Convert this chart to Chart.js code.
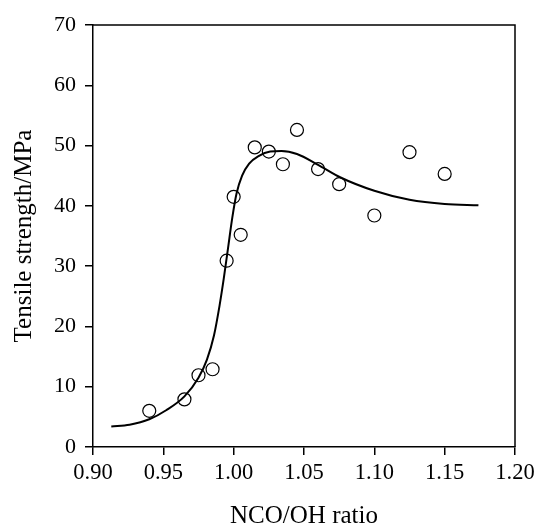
<!DOCTYPE html>
<html>
<head>
<meta charset="utf-8">
<script src="https://cdn.jsdelivr.net/npm/chart.js@4/dist/chart.umd.min.js"></script>
<style>
  html, body { margin: 0; padding: 0; background: #fff; }
  #wrap { width: 537px; height: 525px; }
</style>
</head>
<body>
<div id="wrap"><canvas id="chart" width="537" height="525"></canvas></div>
<script>
// measured points (NCO/OH ratio, tensile strength MPa)
const ratio = [0.940, 0.965, 0.975, 0.985, 0.995, 1.000, 1.005, 1.015, 1.025, 1.035, 1.045, 1.060, 1.075, 1.100, 1.125, 1.150]
const strength = [6.0, 7.9, 11.9, 12.9, 30.9, 41.5, 35.2, 49.7, 49.0, 46.9, 52.6, 46.1, 43.6, 38.4, 48.9, 45.3]

// fitted curve
const fitX = [0.913, 0.926, 0.940, 0.952, 0.965, 0.975, 0.981, 0.986, 0.990, 0.993, 0.996, 0.999, 1.002, 1.006, 1.011, 1.018, 1.026, 1.034, 1.045, 1.060, 1.076, 1.100, 1.125, 1.150, 1.174]
const fitY = [3.4, 3.7, 4.6, 6.1, 8.4, 11.5, 14.5, 18.5, 23.5, 28.0, 33.0, 38.0, 42.0, 45.0, 47.0, 48.3, 49.0, 49.1, 48.6, 46.8, 44.7, 42.5, 41.0, 40.3, 40.1]

const xTicks = [0.90, 0.95, 1.00, 1.05, 1.10, 1.15, 1.20]
const yTicks = [0, 10, 20, 30, 40, 50, 60, 70]

const serif = "'Liberation Serif', 'Times New Roman', serif"

// keep the plot box where the reference has it
function noScalePadding(s) {
  s.paddingLeft = 0
  s.paddingRight = 0
  s.paddingTop = 0
  s.paddingBottom = 0
}

const frame = {
  id: "frame",
  afterDatasetsDraw(chart) {
    const { ctx, chartArea: a } = chart
    ctx.save()
    ctx.strokeStyle = "#000"
    ctx.lineWidth = 1.5
    ctx.beginPath()
    ctx.moveTo(a.left, a.top)
    ctx.lineTo(a.right, a.top)
    ctx.lineTo(a.right, a.bottom)
    ctx.stroke()
    ctx.restore()
  }
}

new Chart(document.getElementById("chart"), {
  type: "scatter",
  data: {
    datasets: [
      {
        type: "line",
        data: fitX.map((x, i) => ({ x, y: fitY[i] })),
        borderColor: "#000",
        borderWidth: 2,
        pointRadius: 0,
        fill: false,
        cubicInterpolationMode: "monotone"
      },
      {
        data: ratio.map((x, i) => ({ x, y: strength[i] })),
        pointStyle: "circle",
        pointRadius: 6.5,
        pointBorderWidth: 1.2,
        pointBorderColor: "#000",
        pointBackgroundColor: "rgba(255,255,255,0)"
      }
    ]
  },
  options: {
    responsive: false,
    animation: false,
    layout: { padding: { left: 0, right: 22, top: 25, bottom: 0 } },
    plugins: {
      legend: { display: false },
      tooltip: { enabled: false }
    },
    scales: {
      x: {
        type: "linear",
        min: 0.9,
        max: 1.2,
        afterBuildTicks: s => { s.ticks = xTicks.map(v => ({ value: v })) },
        afterFit: s => { s.height = 78; noScalePadding(s) },
        ticks: {
          color: "#000",
          padding: 5,
          maxRotation: 0,
          font: { family: serif, size: 22.5 },
          callback: v => Number(v).toFixed(2)
        },
        grid: { display: true, drawOnChartArea: false, color: "#000", lineWidth: 1.5, tickLength: 8 },
        border: { display: true, color: "#000", width: 1.5 },
        title: {
          display: true,
          text: "NCO/OH ratio",
          color: "#000",
          font: { family: serif, size: 25, lineHeight: 0.7 },
          padding: { top: 0, bottom: 0 }
        }
      },
      y: {
        min: 0,
        max: 70,
        afterBuildTicks: s => { s.ticks = yTicks.map(v => ({ value: v })) },
        afterFit: s => { s.width = 93; noScalePadding(s) },
        ticks: {
          color: "#000",
          padding: 9,
          font: { family: serif, size: 22 }
        },
        grid: { display: true, drawOnChartArea: false, color: "#000", lineWidth: 1.5, tickLength: 8 },
        border: { display: true, color: "#000", width: 1.5 },
        title: {
          display: true,
          text: "Tensile strength/MPa",
          color: "#000",
          font: { family: serif, size: 25 },
          padding: { top: 9, bottom: 0 }
        }
      }
    }
  },
  plugins: [frame]
})
</script>
</body>
</html>
